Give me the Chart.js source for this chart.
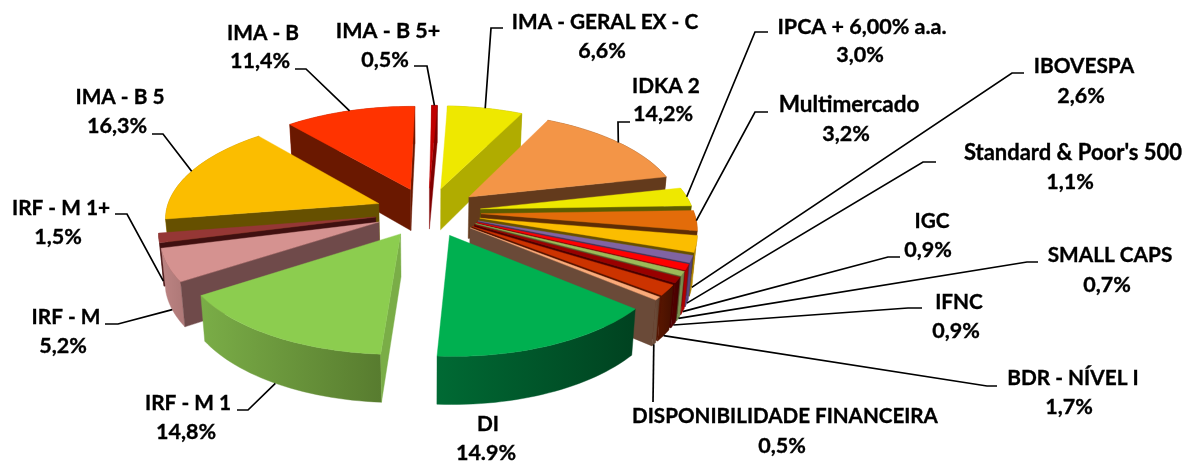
<!DOCTYPE html>
<html>
<head>
<meta charset="utf-8">
<style>
  html, body { margin: 0; padding: 0; background: #fff; }
  canvas { display: block; }
</style>
<script src="https://cdn.jsdelivr.net/npm/chart.js@4/dist/chart.umd.min.js"></script>
</head>
<body>
<canvas id="chart_f" width="1187" height="461"></canvas>
<script>
const categories = ['IMA - GERAL EX - C', 'IDKA 2', 'IPCA + 6,00% a.a.', 'Multimercado', 'IBOVESPA', "Standard & Poor's 500", 'IGC', 'SMALL CAPS', 'IFNC', 'BDR - NÍVEL I', 'DISPONIBILIDADE FINANCEIRA', 'DI', 'IRF - M 1', 'IRF - M', 'IRF - M 1+', 'IMA - B 5', 'IMA - B', 'IMA - B 5+']
const values = [6.6, 14.2, 3.0, 3.2, 2.6, 1.1, 0.9, 0.7, 0.9, 1.7, 0.5, 14.9, 14.8, 5.2, 1.5, 16.3, 11.4, 0.5]
const valueLabels = ['6,6%', '14,2%', '3,0%', '3,2%', '2,6%', '1,1%', '0,9%', '0,7%', '0,9%', '1,7%', '0,5%', '14.9%', '14,8%', '5,2%', '1,5%', '16,3%', '11,4%', '0,5%']

const topColors = ['#EEE800', '#F39547', '#EEE800', '#E36C0A', '#FBBD00', '#8064A2', '#FF0000', '#9BBB59', '#990000', '#CC3300', '#FAAB7A', '#00B050', '#8CCD4F', '#D59290', '#953735', '#FBBD00', '#FF3300', '#C00000']
const faceColors = ['#B0AC00', '#633A1C', '#5E5C00', '#5E2D05', '#665000', '#40325A', '#7A0000', '#4F6030', '#4A0000', '#551500', '#6A4A38', '#00401F', '#7AAD47', '#6F4A4A', '#401010', '#665000', '#6A1800', '#800000']
const wallLeft = ['#B0AC00', '#7A4A24', '#B0AC00', '#A85008', '#B88A00', '#5A4680', '#B00000', '#7A8F50', '#500000', '#551500', '#6A4A38', '#006A34', '#7AAD47', '#BC8483', '#6E2826', '#B88A00', '#A82000', '#800000']
const wallRight = ['#B0AC00', '#7A4A24', '#B0AC00', '#A85008', '#B88A00', '#4A3A6A', '#900000', '#6A7F40', '#400000', '#451000', '#5A3A28', '#004220', '#587C2F', '#B07A79', '#6E2826', '#B88A00', '#A82000', '#800000']

// where each label sits and where its leader bends
const labelX = [605, 666, 862, 849, 1084, 1073, 932, 1110, 959, 1073, 785, 488, 188, 66, 61, 120, 263, 388]
const labelY = [22, 86, 27, 105, 66, 153, 221, 255, 302, 378, 416, 424, 403, 317, 208, 97, 33, 31]
const valueX = [602, 663, 860, 846, 1081, 1070, 928, 1107, 956, 1069, 782, 486, 186, 63, 58, 117, 260, 385]
const valueY = [51, 114, 55, 134, 96, 182, 250, 285, 331, 407, 446, 453, 432, 346, 237, 126, 61, 60]
const nameSize = [20.8, 20.8, 21.5, 22.5, 20.8, 22, 20.8, 20.8, 20.8, 20.8, 20.6, 20.8, 20.8, 20.8, 20.8, 20.8, 20.8, 21.5]
const leaderBend = [[491, 28], [618, 122], [755, 32], [755, 112], [1012, 73], [923, 162], [888, 257], [1027, 262], [908, 308], [987, 386], [653, 402], null, [248, 410], [118, 324], [127, 214], [163, 134], [306, 69], [427, 66]]
const leaderTail = [[503, 28], [630, 122], [768, 32], [768, 112], [1024, 73], [936, 162], [900, 257], [1038, 262], [922, 308], [997, 386], null, null, [237, 410], [105, 324], [115, 214], [152, 134], [295, 69], [414, 66]]
const leaderDrop = [0, 0, 0, 0, 1, 1, 1, 1, 1, 1, 1, 0, 1, 1, 1, 0, 0, 0]

const persp = 0.0006
const tilt = 0.465
const depth = 42

const project = (area, gx, gy, z) => {
    const den = 1 - persp * gy
    const shrink = 1 - z * 0.017
    return [
        area.x + gx / den * shrink,
        area.y + tilt * gy / den + z * depth * Math.pow(den, -0.8)
    ]
}

const rimPoints = (p) => {
    const pts = []
    const steps = Math.max(2, Math.ceil((p.endAngle - p.startAngle) / 0.03))
    for (let i = 0; i <= steps; i++) {
        const a = p.startAngle + (p.endAngle - p.startAngle) * i / steps
        pts.push([p.ox + p.outerRadius * Math.cos(a), p.oy + p.outerRadius * Math.sin(a)])
    }
    return pts
}

const fillPoly = (ctx, pts, color) => {
    ctx.beginPath()
    pts.forEach((pt, i) => i ? ctx.lineTo(pt[0], pt[1]) : ctx.moveTo(pt[0], pt[1]))
    ctx.closePath()
    ctx.fillStyle = color
    ctx.strokeStyle = color
    ctx.lineWidth = 0.4
    ctx.fill()
    ctx.stroke()
}

const signedArea = (pts) => {
    let sum = 0
    pts.forEach((pt, i) => {
        const next = pts[(i + 1) % pts.length]
        sum += pt[0] * next[1] - next[0] * pt[1]
    })
    return sum
}

const sliceGeometry = (arc) => {
    const p = arc.getProps(['x', 'y', 'startAngle', 'endAngle', 'outerRadius'], true)
    const mid = (p.startAngle + p.endAngle) / 2
    const off = arc.options.offset
    p.mid = mid
    p.ox = off * Math.cos(mid)
    p.oy = off * Math.sin(mid)
    return p
}

const drawSlice = (ctx, arc, i) => {
    const p = sliceGeometry(arc)
    const rim = rimPoints(p)
    const topRim = rim.map(g => project(p, g[0], g[1], 0))
    const botRim = rim.map(g => project(p, g[0], g[1], 1))
    const apexTop = project(p, p.ox, p.oy, 0)
    const apexBot = project(p, p.ox, p.oy, 1)

    // outer wall first, the cut faces and the top go over it
    const grad = ctx.createLinearGradient(topRim[topRim.length - 1][0], 0, topRim[0][0], 0)
    const leftToRight = topRim[topRim.length - 1][0] < topRim[0][0]
    grad.addColorStop(0, leftToRight ? wallLeft[i] : wallRight[i])
    grad.addColorStop(1, leftToRight ? wallRight[i] : wallLeft[i])
    fillPoly(ctx, topRim.concat(botRim.slice().reverse()), grad)

    const startFace = [apexTop, topRim[0], botRim[0], apexBot]
    const endFace = [apexTop, topRim[topRim.length - 1], botRim[botRim.length - 1], apexBot]
    if (signedArea(startFace) < 0) fillPoly(ctx, startFace, faceColors[i])
    if (signedArea(endFace) > 0) fillPoly(ctx, endFace, faceColors[i])

    fillPoly(ctx, [apexTop].concat(topRim), topColors[i])
}

const drawLabels = (ctx, arcs) => {
    ctx.strokeStyle = '#000'
    ctx.lineWidth = 1.7
    arcs.forEach((arc, i) => {
        if (!leaderBend[i]) return
        const p = sliceGeometry(arc)
        const gx = p.ox + p.outerRadius * Math.cos(p.mid)
        const gy = p.oy + p.outerRadius * Math.sin(p.mid)
        const start = project(p, gx, gy, leaderDrop[i])
        ctx.beginPath()
        ctx.moveTo(start[0], start[1])
        ctx.lineTo(leaderBend[i][0], leaderBend[i][1])
        if (leaderTail[i]) ctx.lineTo(leaderTail[i][0], leaderTail[i][1])
        ctx.stroke()
    })

    ctx.fillStyle = '#000'
    ctx.strokeStyle = '#000'
    ctx.lineWidth = 0.35
    ctx.textAlign = 'center'
    ctx.textBaseline = 'middle'
    categories.forEach((name, i) => {
        ctx.font = 'bold ' + nameSize[i] + 'px Lato'
        ctx.fillText(name, labelX[i], labelY[i])
        ctx.strokeText(name, labelX[i], labelY[i])
        ctx.font = 'bold 21.5px Lato'
        ctx.fillText(valueLabels[i], valueX[i], valueY[i])
        ctx.strokeText(valueLabels[i], valueX[i], valueY[i])
    })
}

const pie3d = {
    id: 'pie3d',
    beforeDatasetsDraw(chart) {
        const ctx = chart.ctx
        const arcs = chart.getDatasetMeta(0).data
        const order = arcs.map((arc, i) => i).sort((a, b) => {
            const pa = sliceGeometry(arcs[a])
            const pb = sliceGeometry(arcs[b])
            return pa.oy - pb.oy
        })
        order.forEach(i => drawSlice(ctx, arcs[i], i))
        drawLabels(ctx, arcs)
        return false
    }
}

const ctx = document.getElementById('chart_f').getContext('2d')
const myChart = new Chart(ctx, {
    type: 'pie',
    data: {
        labels: categories,
        datasets: [{
            data: values,
            backgroundColor: topColors,
            borderWidth: 0,
            offset: 53
        }]
    },
    options: {
        responsive: false,
        animation: false,
        rotation: 2.5,
        radius: 213,
        layout: { padding: { right: 331, bottom: 37 } },
        plugins: {
            legend: { display: false },
            tooltip: { enabled: false }
        }
    },
    plugins: [pie3d]
})
</script>
</body>
</html>
